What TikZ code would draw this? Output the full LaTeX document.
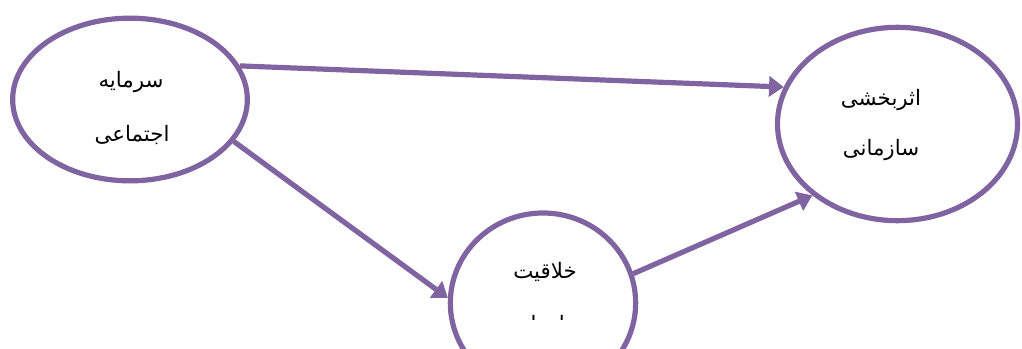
\documentclass[tikz,border=0pt]{standalone}
\usepackage{fontspec}
\usepackage{tikz}
\usetikzlibrary{arrows.meta, shapes.geometric, positioning, calc}
\newfontfamily\arabicfont[Script=Arabic]{DejaVu Sans}
\TeXXeTstate=1
\definecolor{violet}{RGB}{128,100,162}

\begin{document}
\begin{tikzpicture}[x=0.75pt, y=-0.75pt,
  oval/.style={draw=violet, line width=3.9pt, ellipse, inner sep=0pt},
  fa/.style={font=\arabicfont\fontsize{16}{18}\selectfont, inner sep=0pt},
  link/.style={draw=violet, line width=3.9pt, -{Triangle[length=11pt,width=15pt]}}]
  \useasboundingbox (0,0) rectangle (1022,349);
  \clip (0,0) rectangle (1022,349);
  % the three variables
  \node[oval, minimum width=176pt, minimum height=122pt] (social) at (130,99.5) {};
  \node[oval, minimum width=180pt, minimum height=145pt] (effect) at (897.5,124) {};
  \node[oval, minimum width=139pt, minimum height=135pt] (create) at (543,303) {};
  % labels
  \node[fa] (socialA) at (131,82) {\beginR سرمایه\endR};
  \node[fa] (socialB) at (132,135) {\beginR اجتماعی\endR};
  \node[fa] (effectA) at (881,100) {\beginR اثربخشی\endR};
  \node[fa] (effectB) at (881,150) {\beginR سازمانی\endR};
  \node[fa] (createA) at (545,272) {\beginR خلاقیت\endR};
  \begin{scope}
    \clip (440,200) rectangle (650,320);
    \node[fa] (createB) at (545,326) {\beginR سازمانی\endR};
  \end{scope}
  % paths
  \draw[link] (social.17.5) -- (effect.162.7);
  \draw[link] (social.-22.5) -- (create.177);
  \draw[link] (create.18) -- (effect.220.8);
\end{tikzpicture}
\end{document}
